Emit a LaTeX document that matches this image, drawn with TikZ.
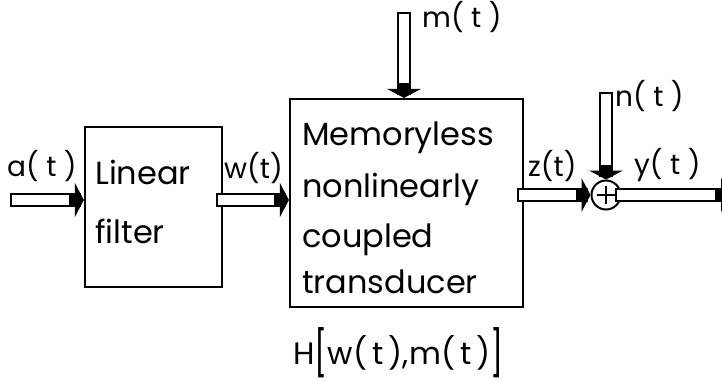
\documentclass[tikz,border=0pt]{standalone}
\usepackage{fontspec}
\usepackage{graphicx}
\setmainfont{Poppins}
\newcommand{\tallbr}[1]{\raisebox{-5pt}{\scalebox{1}[1.45]{#1}}}
\begin{document}
\begin{tikzpicture}[x=1pt,y=-1pt,
  blk/.style={draw, line width=2.2pt, inner sep=0pt},
  pipe/.style={draw, line width=1.9pt, double=white, double distance=10pt, line cap=rect},
  lbl/.style={font=\fontsize{28}{28}\selectfont, inner sep=0pt, anchor=base west},
  txt/.style={font=\fontsize{32}{32}\selectfont, inner sep=0pt, anchor=base west},
  headE/.pic={
    \fill (-15,-7) rectangle (-3,7);
    \fill (-9,-17) -- (0,0) -- (-9,17) -- cycle;
  },
  headS/.pic={
    \fill (-7,-15) rectangle (7,-3);
    \fill (-17,-9) -- (0,0) -- (17,-9) -- cycle;
  }
]
\useasboundingbox (0,0) rectangle (722,381);

% blocks
\node[blk, minimum width=137pt, minimum height=160pt] (lf) at (153.5,207) {};
\node[blk, minimum width=233pt, minimum height=208pt] (mb) at (406.5,203) {};
\node[draw, circle, line width=2pt, minimum size=29pt, inner sep=0pt] (sum) at (606,195) {};
\draw[line width=2.4pt] ([yshift=9pt]sum.center) -- ([yshift=-9pt]sum.center)
                        ([xshift=-9pt]sum.center) -- ([xshift=9pt]sum.center);

% block texts
\node[txt] (lf1) at (95,184) {Linear};
\node[txt] (lf2) at (95,243) {filter};
\node[txt] (mb1) at (302,145) {Memoryless};
\node[txt] (mb2) at (302,197) {nonlinearly};
\node[txt] (mb3) at (302,247) {coupled};
\node[txt] (mb4) at (302,293) {transducer};

% free ends of the signal pipes
\coordinate (ain) at (17,200);
\coordinate (min) at (404,19);
\coordinate (nin) at (606,99);
\coordinate (yout) at (730,195);

% pipes
\draw[pipe] (ain) -- ([xshift=-12pt]lf.west |- ain);
\pic at (lf.west |- ain) {headE};
\draw[pipe] (lf.east |- ain) -- ([xshift=-12pt]mb.west |- ain);
\pic at (mb.west |- ain) {headE};
\draw[pipe] (min) -- ([yshift=12pt]mb.north -| min);
\pic at (mb.north -| min) {headS};
\draw[pipe] (mb.east |- sum) -- ([xshift=-12pt]sum.west);
\pic at (sum.west) {headE};
\draw[pipe] (nin) -- ([yshift=12pt]sum.north);
\pic at (sum.north) {headS};
\draw[pipe] (sum.east) -- (yout);
\pic at (yout) {headE};

% signal labels
\node[lbl] (la) at (7,176) {a( t )};
\node[lbl] (lw) at (224,178) {w(t)};
\node[lbl] (lm) at (422,27) {m( t )};
\node[lbl] (lz) at (528,176) {z(t)};
\node[lbl] (ln) at (615,106) {n( t )};
\node[lbl] (ly) at (634,174) {y( t )};
\node[txt, font=\fontsize{31}{31}\selectfont] (lh) at (293,364)
  {H\tallbr{[}w(\,t\,),m(\,t\,)\tallbr{]}};
\end{tikzpicture}
\end{document}
